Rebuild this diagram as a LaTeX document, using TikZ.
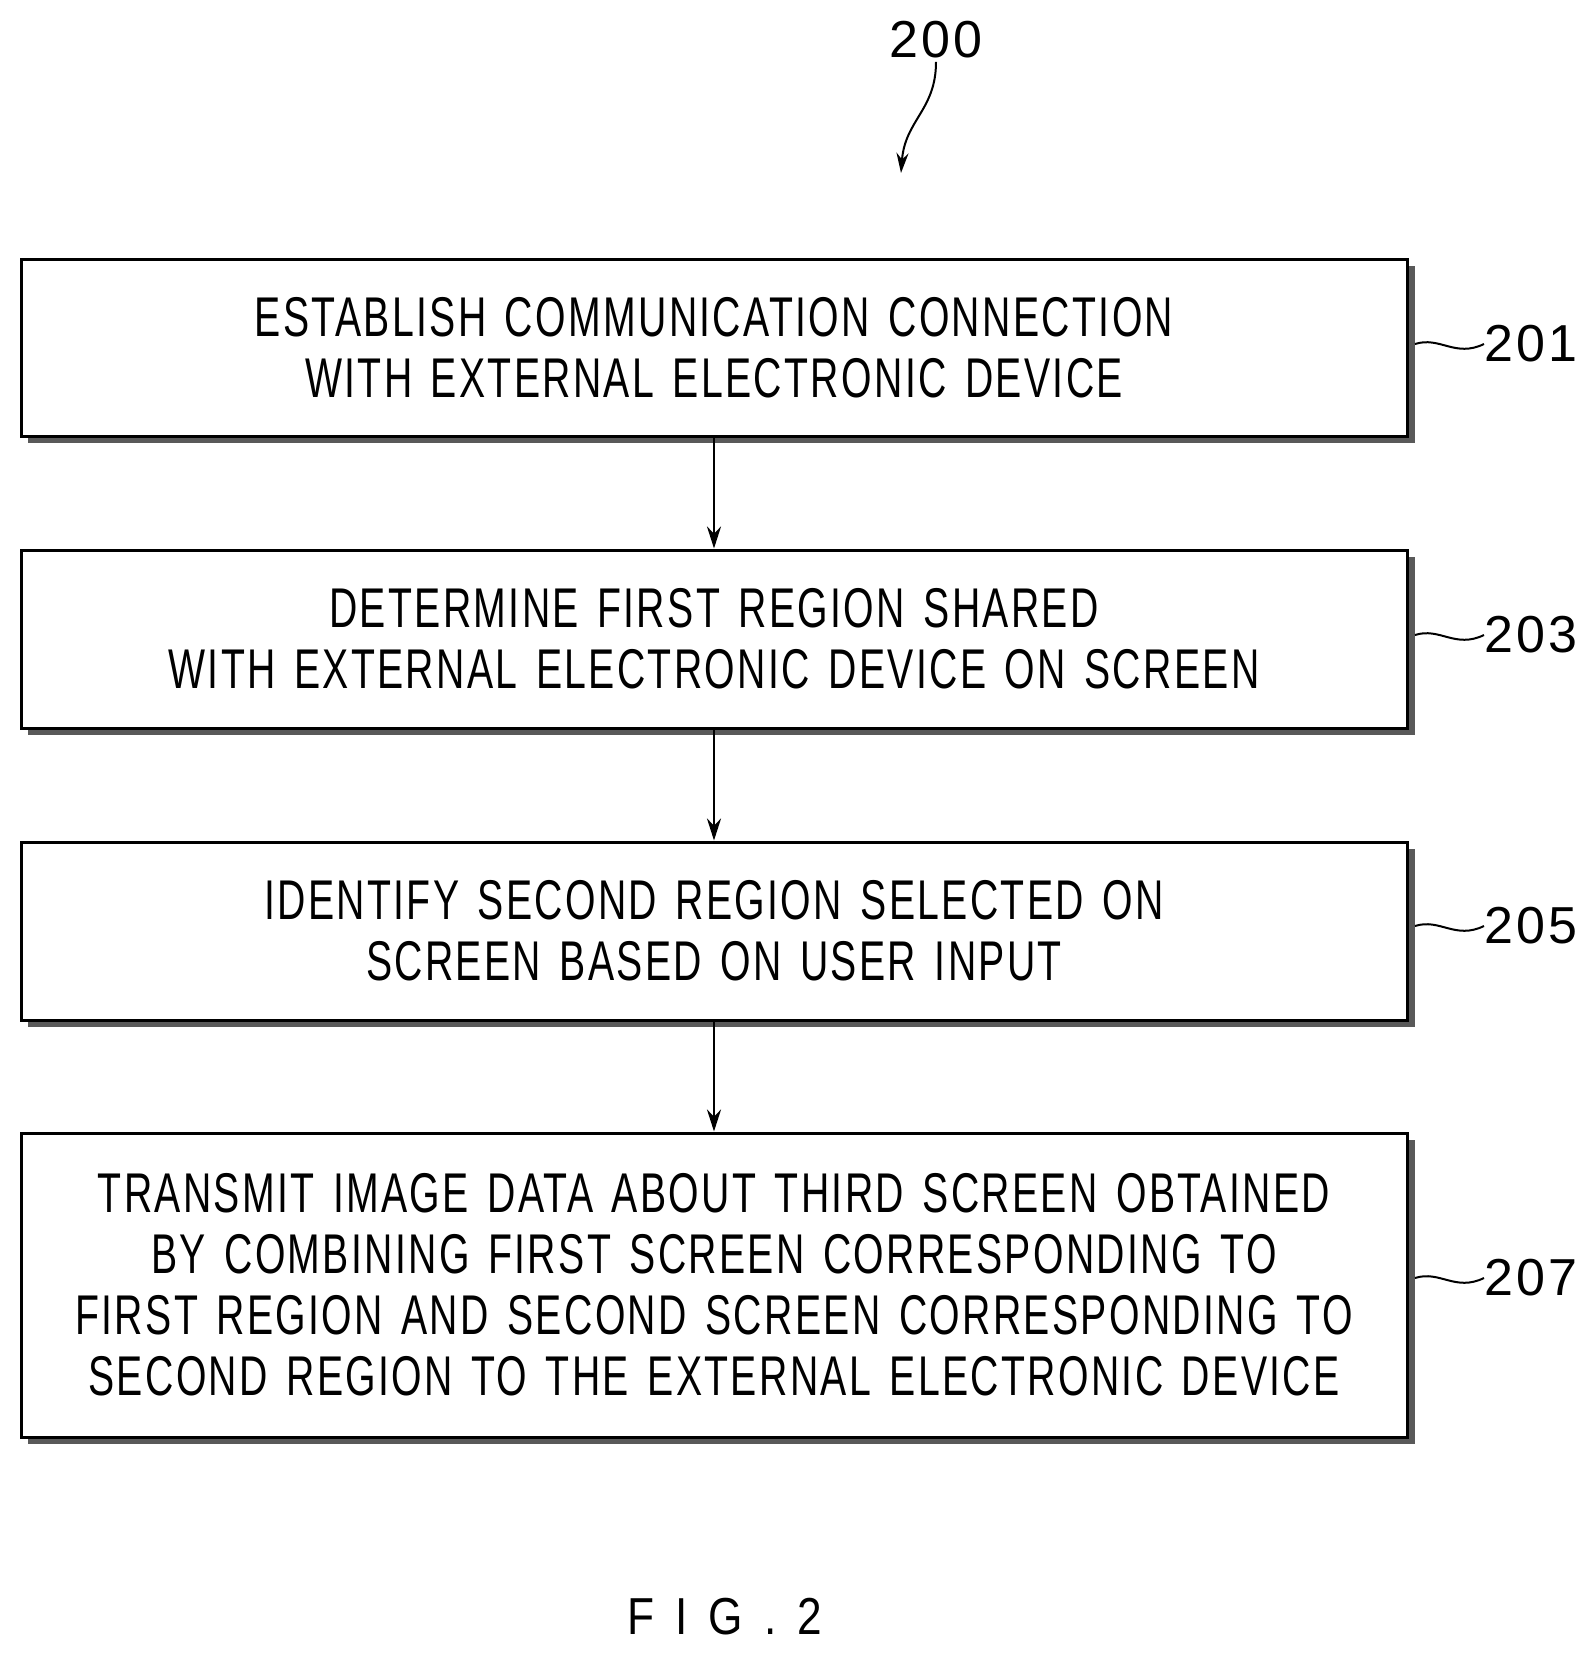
\documentclass[tikz,border=0pt]{standalone}
\usepackage{fontspec}
\setmainfont{Liberation Sans}[LetterSpace=6,WordSpace=1.4]
\usepackage{graphicx}
\usetikzlibrary{positioning,arrows.meta}
\newcommand{\nar}[1]{\scalebox{0.7}[1]{#1}}
\tikzset{
  stepbox/.style={draw,line width=3pt,fill=white,minimum width=1386pt,align=center,
    font=\fontsize{56}{61}\selectfont,inner sep=0pt},
  boxshadow/.style={fill=black!65,draw=none},
  ref/.style={font=\fontsize{52}{52}\selectfont,anchor=west,inner sep=0pt},
  flow/.style={line width=2.5pt,-{Stealth[length=22pt,width=14pt]}}
}
\begin{document}
\begin{tikzpicture}[x=1pt,y=-1pt]
\useasboundingbox (0,0) rectangle (1584,1663);
% Steps
\foreach \cy/\h in {347.5/177,639/178,931/178,1285/304}
  \fill[boxshadow] (28,\cy-\h/2+7) rectangle (1415,\cy+\h/2+7);
\node[stepbox,minimum height=177pt] (s1) at (714,347.5)
  {\nar{ESTABLISH COMMUNICATION CONNECTION}\\ \nar{WITH EXTERNAL ELECTRONIC DEVICE}};
\node[stepbox,minimum height=178pt] (s2) at (714,639)
  {\nar{DETERMINE FIRST REGION SHARED}\\ \nar{WITH EXTERNAL ELECTRONIC DEVICE ON SCREEN}};
\node[stepbox,minimum height=178pt] (s3) at (714,931)
  {\nar{IDENTIFY SECOND REGION SELECTED ON}\\ \nar{SCREEN BASED ON USER INPUT}};
\node[stepbox,minimum height=304pt] (s4) at (714,1285)
  {\nar{TRANSMIT IMAGE DATA ABOUT THIRD SCREEN OBTAINED}\\
   \nar{BY COMBINING FIRST SCREEN CORRESPONDING TO}\\
   \nar{FIRST REGION AND SECOND SCREEN CORRESPONDING TO}\\
   \nar{SECOND REGION TO THE EXTERNAL ELECTRONIC DEVICE}};
% Flow
\draw[flow] (s1) -- (s2);
\draw[flow] (s2) -- (s3);
\draw[flow] (s3) -- (s4);
% References
\foreach \n/\yy in {201/344,203/635,205/926,207/1278}{
  \node[ref] (r\n) at (1484,\yy) {\n};
  \draw[line width=2pt] (1415,\yy) .. controls (1440,\yy-8) and (1455,\yy+14) .. (r\n.west);
}
\node[font=\fontsize{52}{52}\selectfont] (fig) at (936,40) {200};
\coordinate (tip) at (901,173);
\draw[line width=2pt,-{Stealth[length=20pt,width=12pt]}] (fig.south) .. controls (936,110) and (905,120) .. (tip);
\node[font=\fontsize{52}{52}\selectfont] (cap) at (725,1617) {\scalebox{0.85}[1]{F I G . 2}};
\end{tikzpicture}
\end{document}
